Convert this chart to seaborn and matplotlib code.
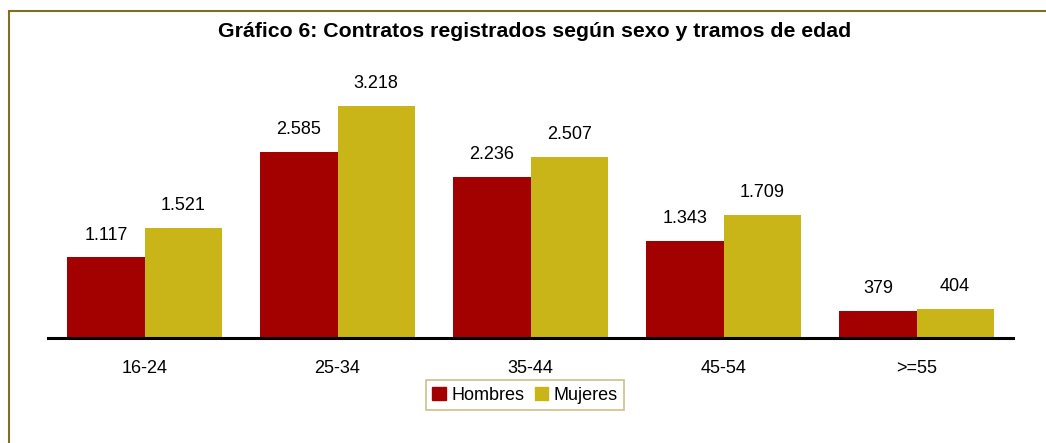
import matplotlib.pyplot as plt
import seaborn as sns
import pandas as pd
from matplotlib.patches import Rectangle

# Data
tramos = ['16-24', '25-34', '35-44', '45-54', '>=55']
hombres = [1117, 2585, 2236, 1343, 379]
mujeres = [1521, 3218, 2507, 1709, 404]

colors = {'Hombres': '#A30000', 'Mujeres': '#C9B518'}

data = pd.DataFrame({
    'Tramo': tramos * 2,
    'Sexo': ['Hombres'] * len(tramos) + ['Mujeres'] * len(tramos),
    'Contratos': hombres + mujeres,
})

sns.set_theme(style='white')
plt.rcParams['font.family'] = ['Liberation Sans', 'DejaVu Sans']
plt.rcParams['text.color'] = 'black'

fig = plt.figure(figsize=(10.46, 4.43), dpi=100)
ax = fig.add_axes([0.0459, 0.237, 0.9226, 0.586])

sns.barplot(data=data, x='Tramo', y='Contratos', hue='Sexo', palette=colors,
            width=0.8, saturation=1, linewidth=0, ax=ax, legend=False)

# value labels with Spanish thousands separator
for container in ax.containers:
    labels = [f'{int(v):,}'.replace(',', '.') for v in container.datavalues]
    ax.bar_label(container, labels=labels, padding=10, fontsize=13, color='black')

ax.set_xlim(-0.5, 4.5)
ax.set_ylim(0, 3600)
ax.set_yticks([])
ax.set_xlabel('')
ax.set_ylabel('')
for side in ['top', 'right', 'left']:
    ax.spines[side].set_visible(False)
ax.spines['bottom'].set_color('black')
ax.spines['bottom'].set_linewidth(2.2)
ax.tick_params(axis='x', length=0, pad=16, labelsize=13, colors='black')

handles = [Rectangle((0, 0), 1, 1, color=colors[k]) for k in ['Hombres', 'Mujeres']]
leg = fig.legend(handles, ['Hombres', 'Mujeres'], loc='center', bbox_to_anchor=(0.502, 0.108),
                 ncol=2, fontsize=13, frameon=True, fancybox=False,
                 handlelength=0.75, handleheight=0.75, handletextpad=0.3,
                 columnspacing=0.6, borderpad=0.35, edgecolor='#BFB070')
leg.get_frame().set_linewidth(1.2)
for t in leg.get_texts():
    t.set_color('black')

fig.text(0.511, 0.928, 'Gráfico 6: Contratos registrados según sexo y tramos de edad',
         ha='center', va='center', fontsize=15.3, fontweight='bold', color='black')

# outer frame (only top and left edges fall inside the image)
fig.patches.append(Rectangle((9 / 1046, -0.1), 1.2, 1.1 - 11 / 443, transform=fig.transFigure,
                             fill=False, edgecolor='#7F7020', linewidth=1.5))

fig.savefig('out.png', dpi=100)
